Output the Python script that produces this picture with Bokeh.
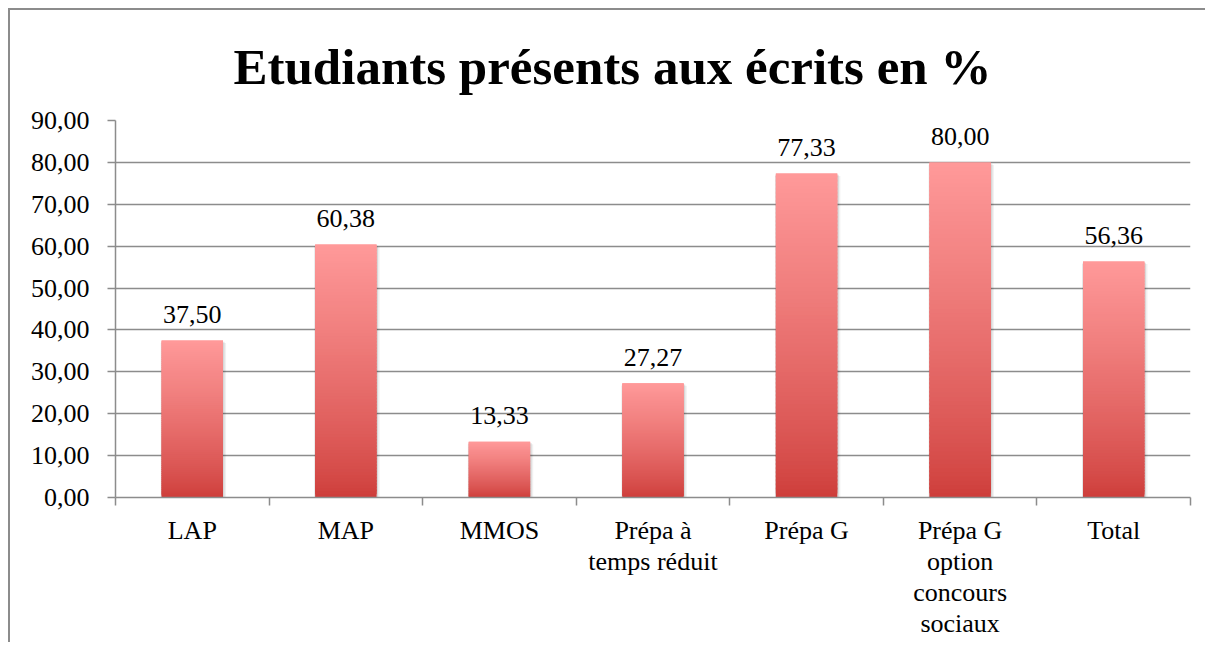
from bokeh.plotting import figure
from bokeh.models import Range1d, FixedTicker, LinearAxis, ColumnDataSource, Grid
from bokeh.core.properties import value
from bokeh.embed import file_html
from bokeh.resources import INLINE

categories = ["LAP", "MAP", "MMOS", "Prépa à\ntemps réduit", "Prépa G",
              "Prépa G\noption\nconcours\nsociaux", "Total"]
values = [37.50, 60.38, 13.33, 27.27, 77.33, 80.00, 56.36]
y_ticks = [0, 10, 20, 30, 40, 50, 60, 70, 80, 90]
title_text = "Etudiants présents aux écrits en %"

FONT = "Liberation Serif"
GRAY = "#8c8c8c"
TOP_RGB = (255, 153, 153)
BOT_RGB = (206, 62, 59)
N = 80
BAR_HALF = 0.2

def fmt(v):
    return f"{v:.2f}".replace(".", ",")

p = figure(width=1197, height=634, output_backend="svg", toolbar_location=None,
           x_range=Range1d(0, len(categories)), y_range=Range1d(0, 90),
           x_axis_type=None, y_axis_type=None,
           min_border_left=105, min_border_right=17, min_border_top=110,
           min_border_bottom=147,
           styles={"margin-left": "8px", "margin-top": "8px",
                   "border-left": f"2px solid {GRAY}",
                   "border-top": f"2px solid {GRAY}"})
p.outline_line_color = None
p.background_fill_color = "white"
p.border_fill_color = "white"

# title
p.title.text = title_text
p.title.text_font = FONT
p.title.text_font_size = "51px"
p.title.text_font_style = "bold"
p.title.text_color = "black"
p.title.align = "left"
p.title.offset = 118
p.title.standoff = 52

# y axis
yax = LinearAxis(ticker=FixedTicker(ticks=y_ticks, minor_ticks=[]))
yax.major_label_overrides = {t: fmt(t) for t in y_ticks}
yax.major_label_text_font = FONT
yax.major_label_text_font_size = "26px"
yax.major_label_text_color = "black"
yax.major_label_standoff = 18
yax.major_tick_out = 8
yax.major_tick_in = 0
yax.minor_tick_out = 0
yax.minor_tick_in = 0
yax.axis_line_color = GRAY
yax.axis_line_width = 1.5
yax.major_tick_line_color = GRAY
yax.major_tick_line_width = 1.5
p.add_layout(yax, "left")

# x axis: labels at centers, ticks at boundaries (minor ticks)
centers = [i + 0.5 for i in range(len(categories))]
bounds = list(range(len(categories) + 1))
xax = LinearAxis(ticker=FixedTicker(ticks=centers, minor_ticks=bounds))
xax.major_label_overrides = {c: lab for c, lab in zip(centers, categories)}
xax.major_label_text_font = FONT
xax.major_label_text_font_size = "26px"
xax.major_label_text_line_height = 1.08
xax.major_label_text_color = "black"
xax.major_label_standoff = 10
xax.major_tick_out = 0
xax.major_tick_in = 0
xax.minor_tick_out = 8
xax.minor_tick_in = 0
xax.minor_tick_line_color = GRAY
xax.minor_tick_line_width = 1.5
xax.axis_line_color = GRAY
xax.axis_line_width = 1.5
p.add_layout(xax, "below")

# grid
g = Grid(dimension=1, ticker=yax.ticker)
g.grid_line_color = GRAY
g.grid_line_width = 1.5
p.add_layout(g)

# soft shadows
for dx, dy, a in [(0.010, 0.3, 0.10), (0.020, 0.6, 0.06)]:
    p.quad(left=[c - BAR_HALF - dx * 0.3 for c in centers],
           right=[c + BAR_HALF + dx for c in centers],
           bottom=[-dy for _ in values], top=[v - dy for v in values],
           fill_color="#000000", fill_alpha=a, line_color=None)

# gradient bars (stacked slices)
def mix(t):
    # t: 0 at bar bottom, 1 at bar top
    s = t ** 0.8
    return tuple(int(BOT_RGB[k] + (TOP_RGB[k] - BOT_RGB[k]) * s) for k in range(3))

L, R, B, T, C = [], [], [], [], []
for i, v in enumerate(values):
    for j in range(N):
        r, gg, b = mix(j / (N - 1))
        L.append(centers[i] - BAR_HALF)
        R.append(centers[i] + BAR_HALF)
        B.append(v * j / N)
        T.append(min(v, v * (j + 2.5) / N))
        C.append(f"#{r:02x}{gg:02x}{b:02x}")
p.quad(left=L, right=R, bottom=B, top=T, fill_color=C, line_color=None)

# data labels
src = ColumnDataSource(dict(x=centers, y=values, t=[fmt(v) for v in values]))
p.text(x="x", y="y", text="t", source=src, text_align="center",
       text_baseline="alphabetic", y_offset=-26, text_font_size="26px",
       text_font=value(FONT), text_color="black")

open("out.html", "w").write(file_html(p, INLINE))
